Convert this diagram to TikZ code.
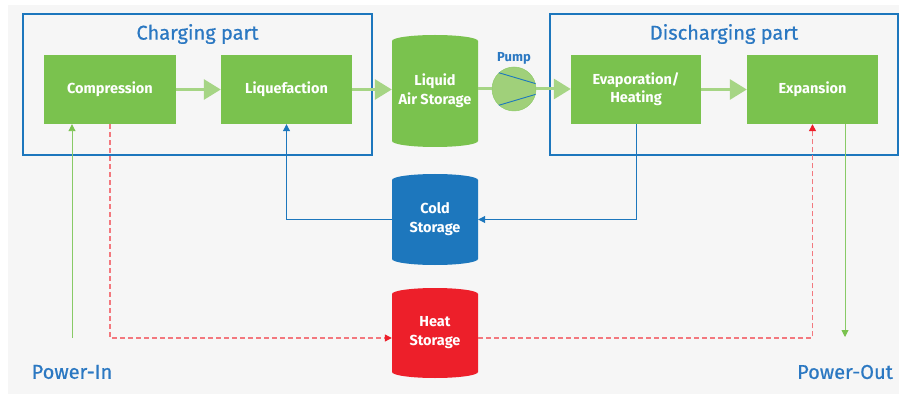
\documentclass[tikz,border=0pt]{standalone}
\usepackage{fontspec}
\setmainfont{Fira Sans}
\newfontfamily\medfont[FakeBold=0.6]{Fira Sans}
\usetikzlibrary{arrows.meta}
\definecolor{bggray}{HTML}{F6F6F6}
\definecolor{boxgreen}{HTML}{7AC24E}
\definecolor{arrgreen}{HTML}{A6D585}
\definecolor{thingreen}{HTML}{88CA66}
\definecolor{myblue}{HTML}{1D77BD}
\definecolor{titleblue}{HTML}{2B78C2}
\definecolor{myred}{HTML}{ED1F2A}
\definecolor{dashred}{HTML}{F3787E}
\definecolor{pumpgreen}{HTML}{A0D07A}
\newcommand\drawcyl[4]{%
  \fill[#4] ({#1-43},{#2-6}) -- ({#1-43},{#3+6})
    arc[start angle=180,end angle=360,x radius=43,y radius=6]
    -- ({#1+43},{#2-6})
    arc[start angle=0,end angle=180,x radius=43,y radius=6] -- cycle;}
\begin{document}
\begin{tikzpicture}[x=1pt,y=1pt,
  procbox/.style={fill=boxgreen, minimum width=131pt, minimum height=69pt, text=white,
    font=\fontsize{14.5}{18}\selectfont\bfseries, align=center, inner sep=0pt},
  partbox/.style={draw=myblue, line width=1.6pt, minimum width=349pt, minimum height=141pt, inner sep=0pt},
  titletext/.style={text=titleblue, font=\fontsize{20}{24}\medfont},
  cylnode/.style={text=white, font=\fontsize{14.5}{19}\selectfont\bfseries, align=center, inner sep=0pt, minimum width=86pt},
  flow/.style={draw=arrgreen, line width=3pt, -{Triangle[length=17pt,width=20pt]}},
  blueline/.style={draw=myblue, line width=1pt, -{Triangle[length=7pt,width=7pt]}},
  redline/.style={draw=dashred, line width=1.2pt, dash pattern=on 5pt off 3pt, -{Triangle[length=7pt,width=7pt,color=myred]}},
  greenline/.style={draw=thingreen, line width=0.9pt, -{Triangle[length=7pt,width=7pt,color=boxgreen]}},
  powertext/.style={text=titleblue, font=\fontsize{20}{24}\medfont}
]
\useasboundingbox (0,0) rectangle (899,394);
\fill[white] (0,0) rectangle (899,394);
\fill[bggray] (8,0) rectangle (899,389);

% part boxes
\node[partbox] (charge) at (197.5,309.5) {};
\node[partbox, minimum width=348pt] (discharge) at (724,309.5) {};
\node[titletext] (ctitle) at (197.5,360) {Charging part};
\node[titletext] (dtitle) at (724,360) {Discharging part};

% process boxes
\node[procbox, minimum width=132pt] (comp) at (110,304.5) {Compression};
\node[procbox] (liq) at (286.5,304.5) {Liquefaction};
\node[procbox, minimum width=130pt] (evap) at (636,304.5) {Evaporation/\\Heating};
\node[procbox] (exp) at (812.5,304.5) {Expansion};

% cylinders
\drawcyl{435}{359}{247}{boxgreen}
\node[cylnode, minimum height=112pt] (las) at (435,303) {Liquid\\Air Storage};
\drawcyl{435}{220}{129}{myblue}
\node[cylnode, minimum height=91pt] (cold) at (435,174.5) {Cold\\Storage};
\drawcyl{435}{106}{16}{myred}
\node[cylnode, minimum height=90pt] (heat) at (435,61) {Heat\\Storage};

% pump
\node[circle, fill=pumpgreen, draw=boxgreen!85, line width=0.5pt, minimum size=44pt, inner sep=0pt] (pump) at (514,305) {};
\draw[myblue, line width=0.9pt] (pump.133) -- (pump.14);
\draw[myblue, line width=0.9pt] (pump.227) -- (pump.346);
\node[text=titleblue, font=\fontsize{13}{15}\selectfont\bfseries] (pumplabel) at (514,336) {Pump};

% main flow
\draw[flow] (comp.east) -- (liq.west);
\draw[flow] (liq.east) -- (las.west |- liq.east);
\draw[draw=arrgreen, line width=3pt] (las.east |- pump.west) -- (pump.west);
\draw[flow] (pump.east) -- (pump.east -| evap.west);
\draw[flow] (evap.east) -- (exp.west);

% cold loop
\draw[blueline] (evap.south) |- (cold.east);
\draw[blueline] (cold.west) -| (liq.south);

% heat loop
\coordinate (hw) at ([yshift=-5pt]heat.west);
\coordinate (he) at ([yshift=-5pt]heat.east);
\draw[redline] (comp.south) |- (hw);
\draw[redline] (he) -| (exp.south);

% power
\node[powertext] (pin) at (72,22) {Power-In};
\node[powertext] (pout) at (845,22) {Power-Out};
\coordinate (pintop) at (72,56);
\coordinate (pouttop) at (845,57);
\draw[greenline] (pintop) -- (comp.south -| pintop);
\draw[greenline] (exp.south -| pouttop) -- (pouttop);
\end{tikzpicture}
\end{document}
